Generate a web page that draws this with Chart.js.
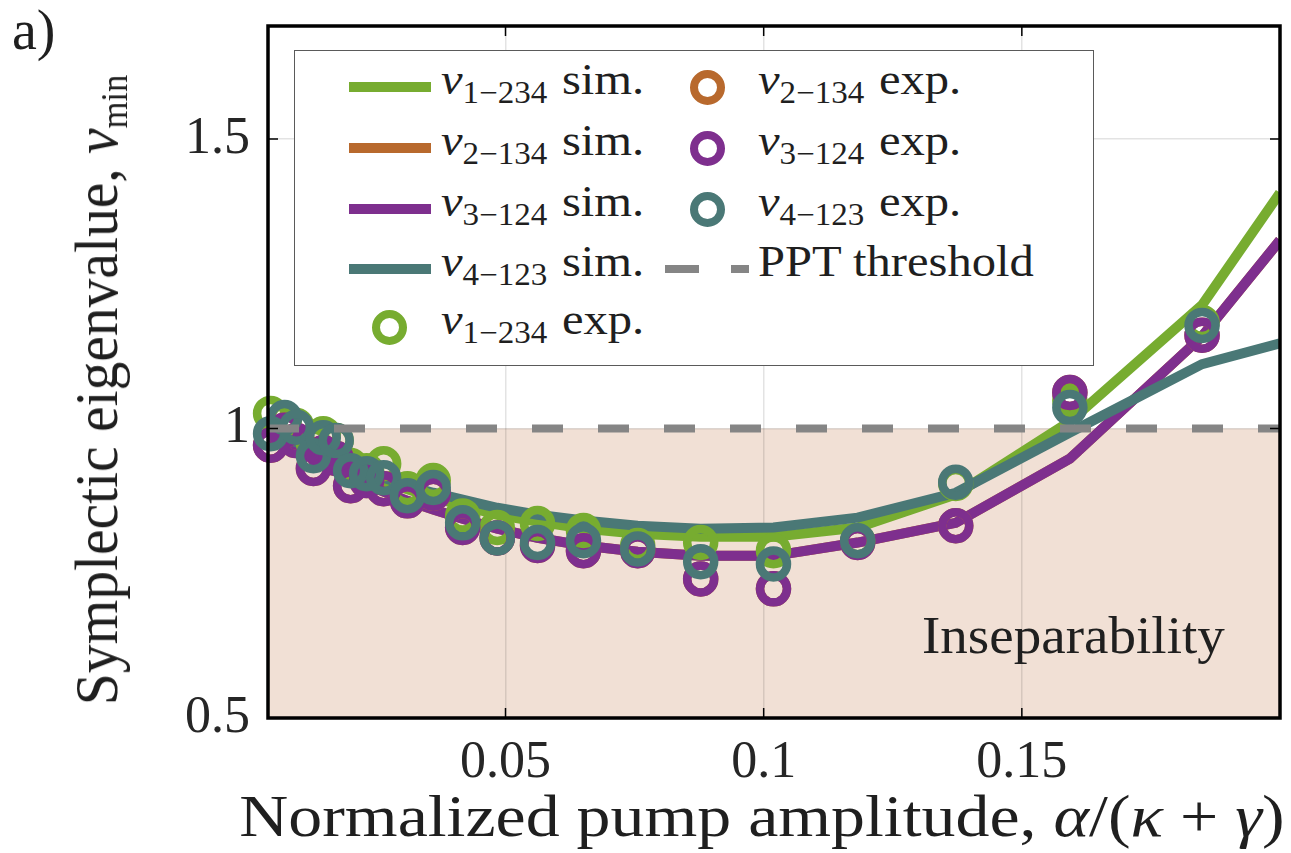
<!DOCTYPE html>
<html>
<head>
<meta charset="utf-8">
<script src="https://cdn.jsdelivr.net/npm/chart.js@4.4.0/dist/chart.umd.min.js"></script>
<style>
  body { margin: 0; background: #fff; }
  #wrap { position: relative; width: 1291px; height: 853px; overflow: hidden;
          font-family: 'Liberation Serif', 'DejaVu Serif', serif; color: #1f1f1f; }
  #chart { position: absolute; left: 0; top: 0; }
  .lbl { position: absolute; white-space: nowrap; line-height: 1; }
  .nu { font-style: italic; }
  .sub { font-size: 0.68em; position: relative; top: 0.28em; }
  .legend { position: absolute; left: 294px; top: 50px; width: 800px; height: 316px;
            border: 1.5px solid #5a5a5a; background: #fff; box-sizing: border-box; }
  .legend .txt { position: absolute; white-space: nowrap; line-height: 1; font-size: 45px;
                 transform: scaleX(1.08); transform-origin: left center; }
  .legend .word { margin-left: 0.3em; }
  .swatch { position: absolute; height: 10px; }
  .ring { position: absolute; width: 35px; height: 35px; border-radius: 50%;
          box-sizing: border-box; border: 8px solid; }
</style>
</head>
<body>
<div id="wrap">
  <canvas id="chart" width="1291" height="853"></canvas>
  <div class="lbl" id="panel" style="left:12px; top:2px; font-size:56px;">a)</div>
  <div class="lbl" id="ytitle" style="left:96px; top:390px; font-size:62px;">Symplectic eigenvalue, <span class="nu">ν</span><span class="sub" style="font-size:0.6em">min</span></div>
  <div class="lbl" id="xtitle" style="left:762px; top:816px; font-size:60px;">Normalized pump amplitude, <span class="nu">α</span>/(<span class="nu">κ</span> + <span class="nu">γ</span>)</div>
  <div class="lbl" id="insep" style="left:922px; top:610px; font-size:52px;">Inseparability</div>
  <div class="legend" id="legend"></div>
</div>
<script>
// pump amplitude values of the measured points
const xExp = [0.0045, 0.0072, 0.0095, 0.0128, 0.0147, 0.0172, 0.0200, 0.0231, 0.0264, 0.0310, 0.0360,
              0.0417, 0.0484, 0.0562, 0.0651, 0.0756, 0.0878, 0.1019, 0.1182, 0.1372, 0.1593, 0.1849];
const nu1Exp = [1.026, 1.017, 1.005, 0.975, 0.991, 0.979, 0.936, 0.927, 0.939, 0.896, 0.910,
                0.849, 0.829, 0.836, 0.824, 0.798, 0.803, 0.789, 0.806, 0.905, 1.048, 1.183];
// nu2 exp points sit underneath the nu3 ones in the figure
const nu2Exp = [0.971, 0.997, 0.979, 0.931, 0.958, 0.948, 0.901, 0.910, 0.896, 0.875, 0.888,
                0.829, 0.811, 0.798, 0.789, 0.789, 0.740, 0.723, 0.803, 0.832, 1.062, 1.161];
const nu3Exp = [0.971, 0.997, 0.979, 0.931, 0.958, 0.948, 0.901, 0.910, 0.896, 0.875, 0.888,
                0.829, 0.811, 0.798, 0.789, 0.789, 0.740, 0.723, 0.803, 0.832, 1.062, 1.161];
const nu4Exp = [0.991, 1.019, 1.002, 0.953, 0.984, 0.979, 0.927, 0.922, 0.915, 0.884, 0.898,
                0.837, 0.811, 0.803, 0.806, 0.792, 0.770, 0.766, 0.806, 0.907, 1.036, 1.178];

// simulation curves
const xSim = [0.004, 0.0072, 0.0095, 0.0128, 0.0147, 0.0172, 0.0200, 0.0231, 0.0264, 0.0310, 0.0360,
              0.0417, 0.0484, 0.0562, 0.0651, 0.0756, 0.0878, 0.1019, 0.1182, 0.1372, 0.1593, 0.1849, 0.2];
const nu1Sim = [0.993, 0.981, 0.972, 0.957, 0.950, 0.939, 0.929, 0.919, 0.908, 0.895, 0.881,
                0.867, 0.851, 0.839, 0.827, 0.818, 0.813, 0.813, 0.829, 0.886, 1.012, 1.213, 1.407];
const nu2Sim = [0.986, 0.974, 0.964, 0.948, 0.939, 0.927, 0.915, 0.903, 0.891, 0.875, 0.860,
                0.844, 0.827, 0.811, 0.798, 0.787, 0.780, 0.780, 0.803, 0.837, 0.948, 1.159, 1.325];
const nu3Sim = [0.986, 0.974, 0.964, 0.948, 0.939, 0.927, 0.915, 0.903, 0.891, 0.875, 0.860,
                0.844, 0.827, 0.811, 0.798, 0.787, 0.780, 0.780, 0.803, 0.837, 0.948, 1.159, 1.325];
const nu4Sim = [0.997, 0.984, 0.976, 0.962, 0.955, 0.945, 0.936, 0.926, 0.915, 0.901, 0.889,
                0.877, 0.863, 0.851, 0.841, 0.832, 0.827, 0.829, 0.846, 0.889, 0.993, 1.111, 1.147];

const xThreshold = [0.004, 0.2];
const yThreshold = [1, 1];

const xTicks = [0.05, 0.1, 0.15];
const yTicks = [0.5, 1, 1.5];
const subs = ['1\u2212234', '2\u2212134', '3\u2212124', '4\u2212123'];

const colors = ['#77AC30', '#B8692D', '#7E2F8E', '#4A7876'];
const shadeColor = '#F1E0D5';
const pptColor = '#858585';

const pts = (xs, ys) => xs.map((x, i) => ({ x, y: ys[i] }));

const simSets = [nu1Sim, nu2Sim, nu3Sim, nu4Sim].map((ys, i) => ({
    label: 'nu' + subs[i] + ' sim.',
    data: pts(xSim, ys),
    borderColor: colors[i],
    borderWidth: 10,
    pointRadius: 0,
    tension: 0,
    order: 8 - i
}));
const expSets = [nu1Exp, nu2Exp, nu3Exp, nu4Exp].map((ys, i) => ({
    label: 'nu' + subs[i] + ' exp.',
    data: pts(xExp, ys),
    showLine: false,
    borderColor: colors[i],
    backgroundColor: 'rgba(0,0,0,0)',
    pointRadius: 13.5,
    pointBorderWidth: 8.5,
    pointBorderColor: colors[i],
    pointBackgroundColor: 'rgba(0,0,0,0)',
    clip: false,
    order: 4 - i
}));
const thresholdSet = {
    label: 'PPT threshold',
    data: pts(xThreshold, yThreshold),
    borderColor: pptColor,
    borderWidth: 8,
    borderDash: [31, 35],
    pointRadius: 0,
    order: 0
};

// shaded inseparability region + black axes box with inward ticks
const framePlugin = {
    id: 'frame',
    beforeDraw(chart) {
        const { ctx, chartArea: a, scales: { y } } = chart;
        const top = y.getPixelForValue(1);
        ctx.save();
        ctx.fillStyle = shadeColor;
        ctx.fillRect(a.left, top, a.right - a.left, a.bottom - top);
        ctx.restore();
    },
    afterDatasetsDraw(chart) {
        const { ctx, chartArea: a, scales: { x, y } } = chart;
        ctx.save();
        ctx.strokeStyle = '#000';
        ctx.lineWidth = 1.5;
        ctx.beginPath();
        xTicks.forEach(v => {
            const px = x.getPixelForValue(v);
            ctx.moveTo(px, a.top); ctx.lineTo(px, a.top + 10);
            ctx.moveTo(px, a.bottom); ctx.lineTo(px, a.bottom - 10);
        });
        yTicks.forEach(v => {
            const py = y.getPixelForValue(v);
            ctx.moveTo(a.left, py); ctx.lineTo(a.left + 10, py);
            ctx.moveTo(a.right, py); ctx.lineTo(a.right - 10, py);
        });
        ctx.stroke();
        ctx.lineWidth = 3.5;
        ctx.strokeRect(a.left, a.top, a.right - a.left, a.bottom - a.top);
        ctx.restore();
    }
};

const tickFont = { family: "'Liberation Serif', serif", size: 52 };
const noPad = s => { s.paddingTop = 0; s.paddingBottom = 0; s.paddingLeft = 0; s.paddingRight = 0; };

new Chart(document.getElementById('chart'), {
    type: 'line',
    data: { datasets: [...simSets, ...expSets, thresholdSet] },
    options: {
        responsive: false,
        animation: false,
        layout: { autoPadding: false, padding: { top: 26, right: 11, left: 0, bottom: 0 } },
        plugins: { legend: { display: false }, tooltip: { enabled: false } },
        scales: {
            x: {
                type: 'linear', min: 0.004, max: 0.2,
                afterBuildTicks: s => { s.ticks = xTicks.map(v => ({ value: v })); },
                afterFit: s => { s.height = 135; noPad(s); },
                grid: { color: 'rgba(0,0,0,0.11)', lineWidth: 1.5, drawTicks: false },
                border: { display: false },
                ticks: { font: tickFont, color: '#262626', padding: 14, maxRotation: 0,
                         callback: v => String(v) }
            },
            y: {
                type: 'linear', min: 0.5, max: 1.695,
                afterBuildTicks: s => { s.ticks = yTicks.map(v => ({ value: v })); },
                afterFit: s => { s.width = 268; noPad(s); },
                grid: { color: 'rgba(0,0,0,0.11)', lineWidth: 1.5, drawTicks: false },
                border: { display: false },
                ticks: { font: tickFont, color: '#262626', padding: 18,
                         callback: v => String(v) }
            }
        }
    },
    plugins: [framePlugin]
});

// legend (two columns, real text)
const legend = document.getElementById('legend');
const rowY = [36, 97, 158, 218, 276];
const fs = 45;
function addText(left, row, html) {
    const d = document.createElement('div');
    d.className = 'txt';
    d.style.left = left + 'px';
    d.style.top = (rowY[row] - 0.66 * fs) + 'px';
    d.innerHTML = html;
    legend.appendChild(d);
}
function nuLabel(i, word) {
    return '<span class="nu">ν</span><span class="sub">' + subs[i] + '</span><span class="word">' + word + '</span>';
}
function addRing(cx, row, color) {
    const r = document.createElement('div');
    r.className = 'ring';
    r.style.left = (cx - 17.5) + 'px';
    r.style.top = (rowY[row] - 17.5) + 'px';
    r.style.borderColor = color;
    legend.appendChild(r);
}
function addSwatch(left, width, row, color, h) {
    const s = document.createElement('div');
    s.className = 'swatch';
    s.style.left = left + 'px';
    s.style.width = width + 'px';
    s.style.height = h + 'px';
    s.style.top = (rowY[row] - h / 2) + 'px';
    s.style.background = color;
    legend.appendChild(s);
}
for (let i = 0; i < 4; i++) {
    addSwatch(54, 82, i, colors[i], 10);
    addText(146, i, nuLabel(i, 'sim.'));
}
addRing(94, 4, colors[0]);
addText(146, 4, nuLabel(0, 'exp.'));
for (let i = 1; i < 4; i++) {
    addRing(412, i - 1, colors[i]);
    addText(463, i - 1, nuLabel(i, 'exp.'));
}
addSwatch(370, 34, 3, pptColor, 8);
addSwatch(436, 18, 3, pptColor, 8);
addText(463, 3, 'PPT threshold');

// stretch titles to the widths used in the figure
function fit(id, target, tpl) {
    const el = document.getElementById(id);
    const k = (target / el.offsetWidth).toFixed(3);
    el.style.transform = tpl.replace('K', k);
}
fit('xtitle', 1045, 'translate(-50%,-50%) scaleX(K)');
fit('ytitle', 630, 'translate(-50%,-50%) rotate(-90deg) scaleX(K)');
document.getElementById('insep').style.transformOrigin = 'left center';
fit('insep', 303, 'scaleX(K)');
</script>
</body>
</html>
